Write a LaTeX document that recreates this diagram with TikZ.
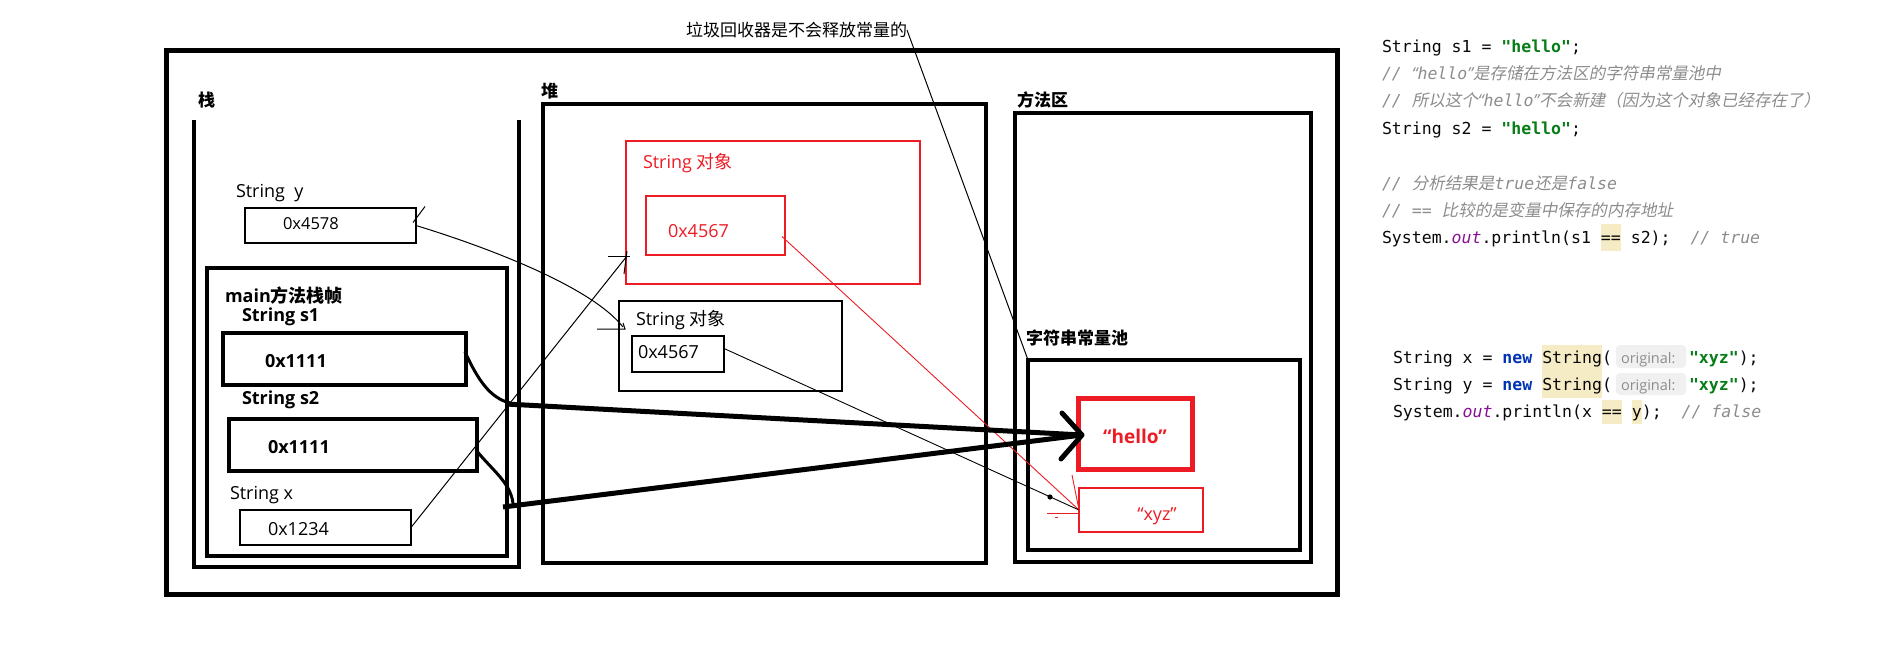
\documentclass[tikz,border=0pt]{standalone}
\usepackage{fontspec}
\setmainfont{Open Sans}
\setmonofont{DejaVu Sans Mono}
\newfontfamily\cjk{Noto Sans CJK SC}
\newfontfamily\cjkit[FakeSlant=0.2]{Noto Sans CJK SC}
\usetikzlibrary{calc}
\frenchspacing
\definecolor{pred}{HTML}{ED1C24}
\definecolor{cstr}{HTML}{067D17}
\definecolor{ckw}{HTML}{0033B3}
\definecolor{cfld}{HTML}{871094}
\definecolor{ccm}{HTML}{8C8C8C}
\definecolor{chl}{HTML}{F5EBC4}
\definecolor{cinl}{HTML}{F0F0F0}
\definecolor{ctxt}{HTML}{080808}
\newcommand\jstr[1]{{\bfseries\color{cstr}#1}}
\newcommand\jkw[1]{{\bfseries\color{ckw}#1}}
\newcommand\jfld[1]{{\itshape\color{cfld}#1}}
\newcommand\jcm[1]{{\itshape\color{ccm}#1}}
\newcommand\jcj[1]{{\cjkit #1}}
\newcommand\jq[1]{{\rmfamily\itshape #1}}
\begin{document}
\begin{tikzpicture}[x=1pt,y=-1pt,
  bx/.style n args={2}{draw, inner sep=0pt, outer sep=0pt, minimum width=#1, minimum height=#2},
  heavy/.style={line width=4.5pt},
  light/.style={line width=1.1pt},
  lab/.style={inner sep=0pt, outer sep=0pt, anchor=base west, font=\fontsize{18}{20}\selectfont},
  blab/.style={inner sep=0pt, outer sep=0pt, anchor=base west, font=\fontsize{18}{20}\selectfont\bfseries},
  clab/.style={inner sep=0pt, outer sep=0pt, anchor=base west, font=\cjk\fontsize{17}{19}\selectfont\bfseries},
  codeln/.style={inner sep=0pt, outer sep=0pt, anchor=base west, text=ctxt, font=\ttfamily\fontsize{16.53}{18}\selectfont},
  inlay/.style={inner sep=0pt, outer sep=0pt, anchor=base west, text=ccm, font=\rmfamily\fontsize{14.5}{16}\selectfont},
  wire/.style={line width=1pt},
  fat/.style={line width=5pt},
  curvy/.style={line width=3pt, line cap=round}
]
\useasboundingbox (0,0) rectangle (1879,646);

% ---------- boxes ----------
\node[bx={1171pt}{544pt}, line width=5pt] (outer) at (751.5,322) {};
\draw[heavy] (194,120) -- (194,567) -- (519,567) -- (519,120);
\node[bx={300pt}{288pt}, heavy] (frame) at (357,412) {};
\node[bx={243pt}{52pt}, heavy] (s1) at (344.5,359) {};
\node[bx={248pt}{52pt}, heavy] (s2) at (353,445) {};
\node[bx={171pt}{35pt}, light] (xb) at (325.5,527.5) {};
\node[bx={171pt}{35pt}, light] (yb) at (330.5,225.5) {};
\node[bx={443pt}{459pt}, heavy] (heap) at (764.5,333.5) {};
\node[bx={294pt}{143pt}, light, draw=pred] (robj) at (773,212.5) {};
\node[bx={139pt}{59pt}, light, draw=pred] (rin) at (715.5,225.5) {};
\node[bx={223pt}{90pt}, light] (bobj) at (730.5,346) {};
\node[bx={92pt}{36pt}, light] (bin) at (678,354) {};
\node[bx={296pt}{449pt}, heavy] (meth) at (1163,337.5) {};
\node[bx={272pt}{190pt}, heavy] (pool) at (1164,455) {};
\node[bx={114pt}{71pt}, line width=5pt, draw=pred] (hello) at (1135,433.5) {};
\node[bx={124pt}{44pt}, light, draw=pred] (xyz) at (1141,510) {};

% ---------- labels ----------
\node[lab, font={\cjk\fontsize{17}{19}\selectfont}] (title) at (686,36.5) {垃圾回收器是不会释放常量的};
\node[clab] (lstack) at (198,106.5) {栈};
\node[clab] (lheap) at (541,97.5) {堆};
\node[clab] (lmeth) at (1017,106.5) {方法区};
\node[clab] (lpool) at (1026,344.5) {字符串常量池};
\node[lab] (ly) at (236,197) {String\ \ y};
\node[lab, font=\fontsize{16.5}{18}\selectfont] (vy) at (283,229) {0x4578};
\node[blab] (lmain) at (225,302) {main{\cjk 方法栈帧}};
\node[blab] (ls1) at (242,321) {String s1};
\node[blab] (v1) at (265,367) {0x1111};
\node[blab] (ls2) at (242,404) {String s2};
\node[blab] (v2) at (268,453) {0x1111};
\node[lab] (lx) at (230,499) {String x};
\node[lab] (vx) at (268,535) {0x1234};
\node[lab, text=pred] (lro) at (643,168) {String {\cjk 对象}};
\node[lab, text=pred] (vro) at (668,237) {0x4567};
\node[lab] (lbo) at (636,325) {String {\cjk 对象}};
\node[lab] (vbo) at (638,358) {0x4567};
\node[inner sep=0pt, anchor=base, text=pred, font=\fontsize{19}{21}\selectfont\bfseries] (thello) at (1135,443) {“hello”};
\node[inner sep=0pt, anchor=base, text=pred, font=\fontsize{18}{20}\selectfont] (txyz) at (1157,520) {“xyz”};

% ---------- connectors ----------
\draw[wire] (title.east) -- (pool.north west);

\coordinate (ye) at (623,327);
\draw[wire] (yb.east) .. controls (480,245) and (590,285) .. (ye);
\draw[wire] ($(yb.east)+(-3,-3)$) -- ($(yb.east)+(9,-19)$);
\draw[wire] ($(ye)+(-26,2)$) -- ($(ye)+(2,2)$) -- ($(ye)+(0,-4)$);

\coordinate (xe) at (627,256);
\draw[wire] (xb.east) -- (xe);
\draw[wire] ($(xe)+(-19,0)$) -- ($(xe)+(3,0)$);
\draw[wire] ($(xe)+(0,-5)$) -- ($(xe)+(-3,18)$);

\draw[draw=pred, line width=0.9pt] ($(rin.east)+(-3,11)$) -- (xyz.west);
\draw[line width=0.9pt] ($(bin.east)+(-1,-6)$) -- (xyz.west);
\fill (1050,497) circle (2.6pt);
\draw[draw=pred, line width=0.9pt] (1072,475) -- (xyz.west);
\draw[draw=pred, line width=0.9pt] (1047,513) -- ($(xyz.west)+(0,3)$);
\draw[draw=pred, line width=0.9pt] (1055,517) -- (1058,517);

\coordinate (tip) at ($(hello.west)+(4,1.5)$);
\coordinate (j1) at (506,404);
\coordinate (j2) at (503,507);
\draw[curvy] ($(s1.east)+(-1,-7)$) .. controls (478,380) and (490,398) .. (510,403);
\draw[fat] (j1) -- (tip);
\draw[curvy] ($(s2.east)+(-1,5)$) .. controls (492,470) and (510,482) .. (513,503);
\draw[fat] (j2) -- (tip);
\draw[fat, line cap=round, line join=round] ($(tip)+(-20,-22)$) -- (tip) -- ($(tip)+(-21,24)$);

% ---------- code ----------
\fill[chl] (1601,224) rectangle (1621,251);
\fill[chl] (1542,345) rectangle (1602,398);
\fill[chl] (1602,400) rectangle (1622,424);
\fill[chl] (1632,400) rectangle (1642,424);
\fill[cinl, rounded corners=4pt] (1616,345) rectangle (1686,368);
\fill[cinl, rounded corners=4pt] (1616,373) rectangle (1686,395);

\node[codeln] (c1) at (1382,52) {String s1 = \jstr{"hello"};};
\node[codeln] (c2) at (1382,79.4) {\jcm{// \jq{“}hello\jq{”}\jcj{是存储在方法区的字符串常量池中}}};
\node[codeln] (c3) at (1382,106.8) {\jcm{// \jcj{所以这个}\jq{“}hello\jq{”}\jcj{不会新建（因为这个对象已经存在了）}}};
\node[codeln] (c4) at (1382,134.2) {String s2 = \jstr{"hello"};};
\node[codeln] (c6) at (1382,189) {\jcm{// \jcj{分析结果是}true\jcj{还是}false}};
\node[codeln] (c7) at (1382,216.4) {\jcm{// == \jcj{比较的是变量中保存的内存地址}}};
\node[codeln] (c8) at (1382,243.8) {System.\jfld{out}.println(s1 == s2);\ \ \jcm{// true}};

\node[codeln] (d1) at (1393,363) {String x = \jkw{new} String(};
\node[inlay] (h1) at (1621,363) {original:};
\node[codeln] (e1) at (1689,363) {\jstr{"xyz"});};
\node[codeln] (d2) at (1393,390.4) {String y = \jkw{new} String(};
\node[inlay] (h2) at (1621,390.4) {original:};
\node[codeln] (e2) at (1689,390.4) {\jstr{"xyz"});};
\node[codeln] (d3) at (1393,417.8) {System.\jfld{out}.println(x == y);\ \ \jcm{// false}};
\end{tikzpicture}
\end{document}
